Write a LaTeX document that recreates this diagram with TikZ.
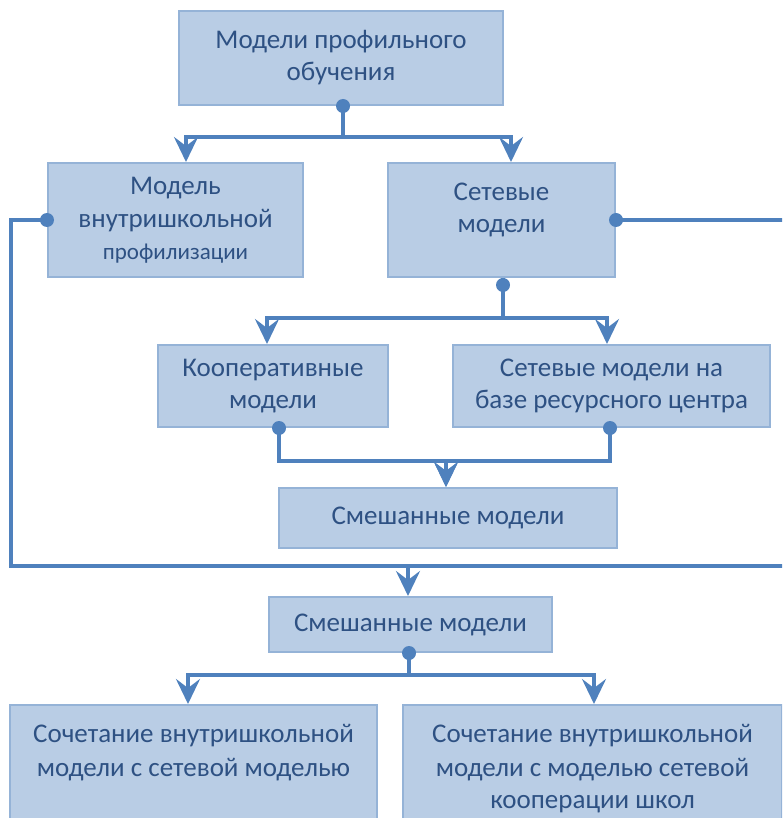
\documentclass[tikz,border=0pt]{standalone}
\usepackage{fontspec}
\setmainfont{Carlito}
\usetikzlibrary{arrows.meta}
\definecolor{boxfill}{HTML}{B9CDE5}
\definecolor{boxline}{HTML}{95B3D7}
\definecolor{linkc}{HTML}{4F81BD}
\definecolor{txt}{HTML}{2E5183}
\begin{document}
\begin{tikzpicture}[x=1pt,y=-1pt,
  box/.style={draw=boxline,fill=boxfill,line width=2pt,align=center,text=txt,inner sep=0pt,font=\fontsize{27}{32}\selectfont},
  link/.style={draw=linkc,line width=3.5pt,-{Stealth[length=25pt,width=24pt,inset=9pt]}},
  line/.style={draw=linkc,line width=3.5pt},
  dot/.style={fill=linkc}]
\useasboundingbox (0,0) rectangle (782,818);
\clip (0,0) rectangle (782,818);
\node[box,minimum width=324pt,minimum height=94pt] (top) at (341,58) {Модели профильного\\обучения};
\node[box,minimum width=255pt,minimum height=114pt] (inner) at (175.5,220) {Модель\\[1pt]внутришкольной\\{\fontsize{23}{31}\selectfont профилизации}};
\node[box,minimum width=227pt,minimum height=114pt,text height=50pt,text depth=24pt] (net) at (501.5,220) {Сетевые\\модели};
\node[box,minimum width=230pt,minimum height=82pt] (coop) at (273,386) {Кооперативные\\модели};
\node[box,minimum width=317pt,minimum height=82pt] (res) at (611.5,386) {Сетевые модели на\\базе ресурсного центра};
\node[box,minimum width=338pt,minimum height=60pt] (mix) at (448,518) {Смешанные модели};
\node[box,minimum width=283pt,minimum height=55pt] (mix2) at (410.5,624.5) {Смешанные модели};
\node[box,minimum width=367pt,minimum height=125pt,text height=71pt,text depth=54pt] (comb1) at (193.5,767.5) {Сочетание внутришкольной\\[2pt]модели с сетевой моделью};
\node[box,minimum width=379pt,minimum height=125pt,text height=103pt,text depth=22pt] (comb2) at (592.5,767.5) {Сочетание внутришкольной\\[2pt]модели с моделью сетевой\\кооперации школ};

\draw[link] ([xshift=2pt]top.south) -- ++(0,31) -| ([xshift=10.5pt]inner.north);
\draw[link] ([xshift=2pt]top.south) -- ++(0,31) -| ([xshift=9.5pt]net.north);
\fill[dot] ([xshift=2pt]top.south) circle (7pt);

\draw[link] ([xshift=1.5pt]net.south) -- ++(0,40) -| ([xshift=-6pt]coop.north);
\draw[link] ([xshift=1.5pt]net.south) -- ++(0,40) -| ([xshift=-4.5pt]res.north);
\fill[dot] ([xshift=1.5pt,yshift=-7pt]net.south) circle (7pt);

\draw[link] ([xshift=6pt]coop.south) -- ++(0,33) -| ([xshift=-2pt]mix.north);
\draw[link] ([xshift=-1.5pt]res.south) -- ++(0,33) -| ([xshift=-2pt]mix.north);
\fill[dot] ([xshift=6pt]coop.south) circle (7pt);
\fill[dot] ([xshift=-1.5pt]res.south) circle (7pt);

\coordinate (join) at ([xshift=-2.5pt,yshift=30pt]mix2.north);
\draw[line] (inner.west) -- ++(-36,0) |- (join);
\draw[line] (net.east) -- ++(180,0) |- (join);
\draw[link] (join) -- ([xshift=-2.5pt]mix2.north);
\fill[dot] (inner.west) circle (7pt);
\fill[dot] (net.east) circle (7pt);

\draw[link] ([xshift=-1.5pt]mix2.south) -- ++(0,22) -| ([xshift=-5.5pt]comb1.north);
\draw[link] ([xshift=-1.5pt]mix2.south) -- ++(0,22) -| ([xshift=1.5pt]comb2.north);
\fill[dot] ([xshift=-1.5pt]mix2.south) circle (7pt);
\end{tikzpicture}
\end{document}
